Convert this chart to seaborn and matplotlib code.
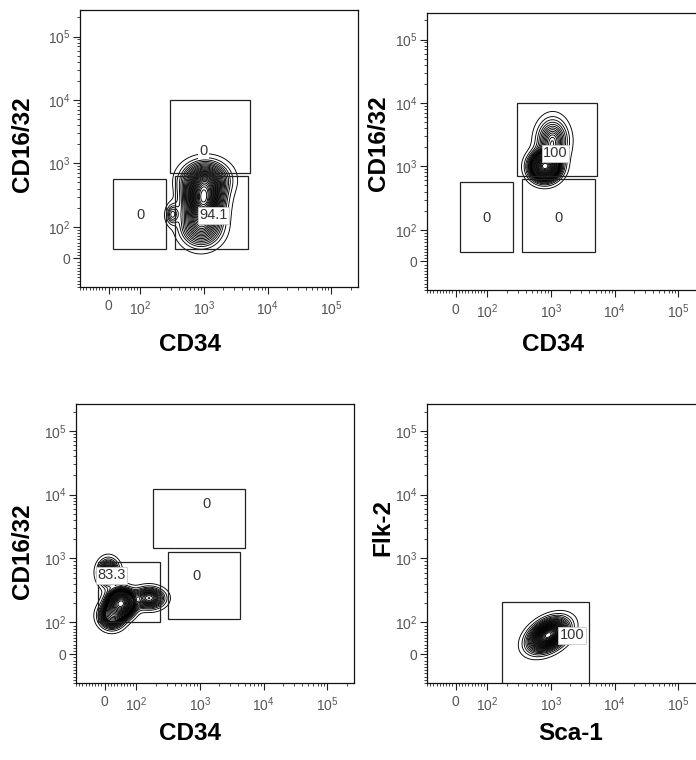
import numpy as np
import pandas as pd
import matplotlib
matplotlib.use("Agg")
import matplotlib.pyplot as plt
import seaborn as sns

# ---- data (raw fluorescence units) ----
# gates: (x0, x1, y0, y1)
p1_gates = [(13, 250, 31, 571), (294, 5350, 716, 9840), (352, 4900, 29, 621)]
p1_freq = ["0", "0", "94.1"]
p1_lab_x = [99, 980, 1410]
p1_lab_y = [151, 1585, 151]

p2_gates = [(13, 250, 31, 571), (294, 5350, 716, 9840), (352, 4900, 29, 621)]
p2_freq = ["0", "100", "0"]
p2_lab_x = [97, 1165, 1310]
p2_lab_y = [155, 1607, 155]

p3_gates = [(-20, 236, 101, 889), (185, 5150, 1440, 12300), (311, 4300, 112, 1262)]
p3_freq = ["83.3", "0", "0"]
p3_lab_x = [22, 1280, 870]
p3_lab_y = [550, 7030, 530]

p4_gates = [(170, 3950, -200, 208)]
p4_freq = ["100"]
p4_lab_x = [2140]
p4_lab_y = [59]

# populations: centre (raw), spread (decades), correlation, weight
p1_cx = [980, 1050, 900, 316]
p1_cy = [263, 560, 100, 158]
p1_sx = [0.17, 0.21, 0.19, 0.05]
p1_sy = [0.20, 0.16, 0.18, 0.08]
p1_r = [0.0, 0.0, 0.0, 0.0]
p1_w = [1.0, 0.6, 0.5, 0.04]

p2_cx = [800, 1050]
p2_cy = [1000, 2500]
p2_sx = [0.13, 0.14]
p2_sy = [0.12, 0.20]
p2_r = [0.0, 0.0]
p2_w = [1.0, 0.5]

p3_cx = [52, 12, 158, 22]
p3_cy = [200, 600, 240, 126]
p3_sx = [0.11, 0.09, 0.14, 0.11]
p3_sy = [0.11, 0.12, 0.09, 0.11]
p3_r = [0.0, 0.0, 0.0, 0.0]
p3_w = [1.0, 0.3, 0.35, 0.4]

p4_cx = [900]
p4_cy = [60]
p4_sx = [0.17]
p4_sy = [0.14]
p4_r = [0.4]
p4_w = [1.0]

x_names = ["CD34", "CD34", "CD34", "Sca-1"]
y_names = ["CD16/32", "CD16/32", "CD16/32", "Flk-2"]

TOP = 262144
TMIN, TMAX = 1.05, np.log10(TOP)


def biex(v):
    # log above 100, linear (half a decade per 100 units) below
    v = np.asarray(v, dtype=float)
    return np.where(v >= 100, np.log10(np.maximum(v, 100)), 2 - (100 - v) / 200)


def population_grid(cx, cy, sx, sy, r, w):
    g = np.linspace(TMIN, TMAX, 150)
    gx, gy = np.meshgrid(g, g)
    dens = np.zeros_like(gx)
    for mx, my, a, b, c, k in zip(biex(cx), biex(cy), sx, sy, r, w):
        u = (gx - mx) / a
        v = (gy - my) / b
        q = (u**2 - 2 * c * u * v + v**2) / (1 - c**2)
        dens += k * np.exp(-0.5 * q) / (a * b * np.sqrt(1 - c**2))
    keep = dens > dens.max() * 1e-5
    return pd.DataFrame({"x": gx[keep], "y": gy[keep], "w": dens[keep]})


def style_axis(ax):
    major = biex([0, 1e2, 1e3, 1e4, 1e5])
    labels = ["0", r"$\mathregular{10^2}$", r"$\mathregular{10^3}$",
              r"$\mathregular{10^4}$", r"$\mathregular{10^5}$"]
    minor_raw = [v for v in range(-90, 100, 10) if v != 0]
    minor_raw += [k * 10**d for d in range(2, 6) for k in range(2, 10) if k * 10**d < TOP]
    minor = biex(minor_raw)
    for axis in (ax.xaxis, ax.yaxis):
        axis.set_ticks(major)
        axis.set_ticklabels(labels)
        axis.set_ticks(minor, minor=True)
    ax.set_xlim(TMIN, TMAX)
    ax.set_ylim(TMIN, TMAX)
    ax.tick_params(which="both", bottom=True, left=True, top=False, right=False)
    ax.tick_params(which="major", direction="out", length=5, width=0.8,
                   color="#222222", labelsize=10, labelcolor="#555555")
    ax.tick_params(which="minor", direction="out", length=2.5, width=0.6,
                   color="#222222")
    ax.tick_params(axis="x", which="major", pad=4)
    ax.tick_params(axis="y", which="major", pad=2)
    for s in ax.spines.values():
        s.set_visible(True)
        s.set_color("#111111")
        s.set_linewidth(0.9)
    ax.set_xlabel("")
    ax.set_ylabel("")


def draw_panel(ax, pops, gates, freq, lab_x, lab_y):
    df = population_grid(*pops)
    sns.kdeplot(data=df, x="x", y="y", weights="w", ax=ax, levels=30,
                thresh=0.025, bw_method=0.18, gridsize=180, color="black",
                linewidths=0.65)
    for x0, x1, y0, y1 in gates:
        bx0, bx1, by0, by1 = biex([x0, x1, y0, y1])
        ax.add_patch(plt.Rectangle((bx0, by0), bx1 - bx0, by1 - by0, fill=False,
                                   ec="#222222", lw=0.9, zorder=4))
    for s, lx, ly in zip(freq, biex(lab_x), biex(lab_y)):
        ec = "#c8c8c8" if s != "0" else "none"
        ax.text(lx, ly, s, ha="center", va="center", fontsize=10.5, color="#333333",
                zorder=6, bbox=dict(boxstyle="square,pad=0.1", fc="white",
                                    ec=ec, lw=0.6))
    style_axis(ax)


sns.set_style("white")
plt.rcParams["font.family"] = ["Liberation Sans", "DejaVu Sans"]
plt.rcParams["mathtext.fontset"] = "custom"
plt.rcParams["mathtext.rm"] = "Liberation Sans"

W, H = 696, 760
fig = plt.figure(figsize=(W / 100, H / 100), dpi=100)
fig.patch.set_facecolor("white")


def px_axes(left, top, width, height):
    return fig.add_axes([left / W, 1 - (top + height) / H, width / W, height / H])


axes = [px_axes(80, 10, 278, 277), px_axes(427, 13, 278, 277),
        px_axes(76, 404, 278, 279), px_axes(427, 404, 278, 279)]

draw_panel(axes[0], (p1_cx, p1_cy, p1_sx, p1_sy, p1_r, p1_w), p1_gates, p1_freq, p1_lab_x, p1_lab_y)
draw_panel(axes[1], (p2_cx, p2_cy, p2_sx, p2_sy, p2_r, p2_w), p2_gates, p2_freq, p2_lab_x, p2_lab_y)
draw_panel(axes[2], (p3_cx, p3_cy, p3_sx, p3_sy, p3_r, p3_w), p3_gates, p3_freq, p3_lab_x, p3_lab_y)
draw_panel(axes[3], (p4_cx, p4_cy, p4_sx, p4_sy, p4_r, p4_w), p4_gates, p4_freq, p4_lab_x, p4_lab_y)

# axis titles, placed like the exported FlowJo layout
xlab_pos = [(190, 344), (553, 344), (190, 734), (571, 734)]
ylab_pos = [(22, 144), (378, 143), (23, 551), (383, 528)]
for name, (px, py) in zip(x_names, xlab_pos):
    fig.text(px / W, 1 - py / H, name, ha="center", va="center",
             fontsize=17.5, fontweight="bold", color="black")
for name, (px, py) in zip(y_names, ylab_pos):
    fig.text(px / W, 1 - py / H, name, ha="center", va="center", rotation=90,
             fontsize=17.5, fontweight="bold", color="black")

fig.savefig("out.png", dpi=100, facecolor="white")
plt.close(fig)
